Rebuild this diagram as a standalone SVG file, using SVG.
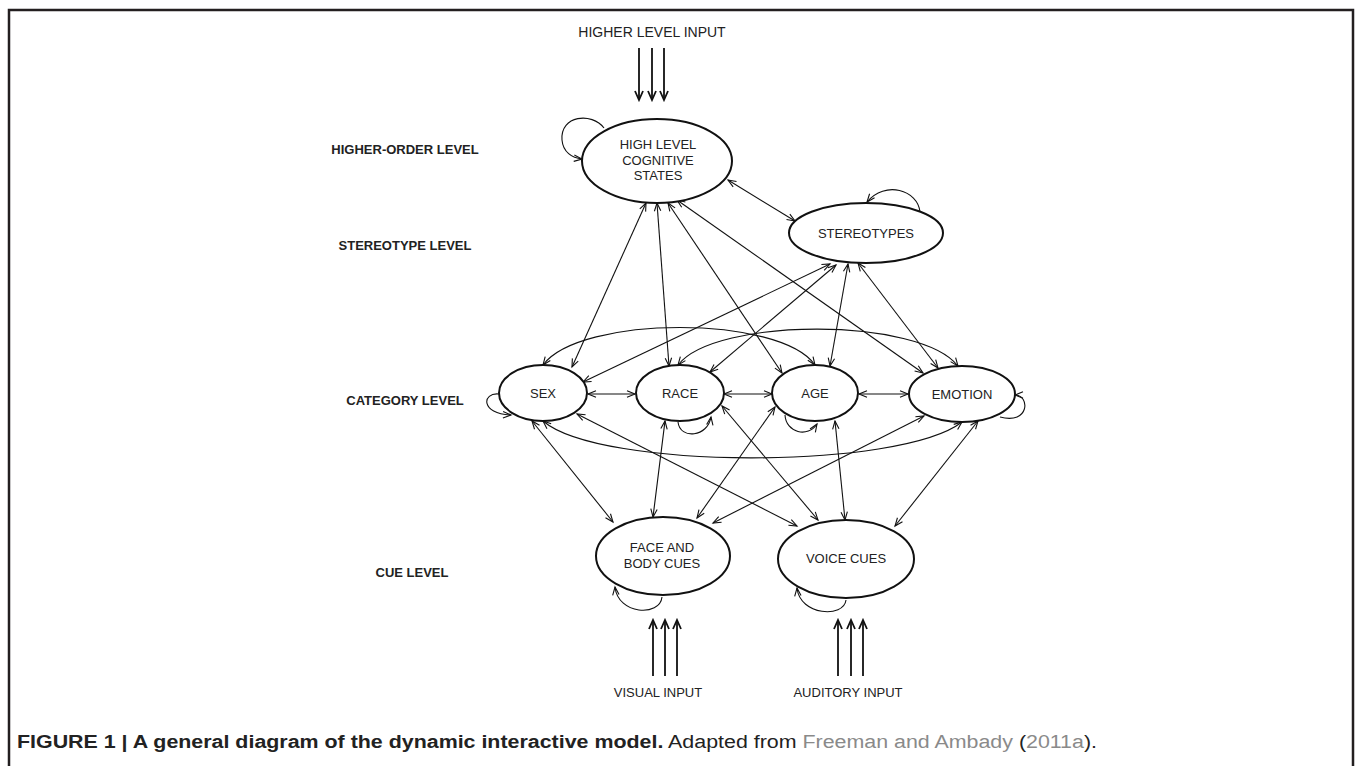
<svg xmlns="http://www.w3.org/2000/svg" width="1355" height="766" viewBox="0 0 1355 766">
<defs>
<marker id="ah" markerUnits="userSpaceOnUse" markerWidth="12" markerHeight="10" refX="9" refY="4" orient="auto-start-reverse" viewBox="0 0 12 8">
<path d="M1,0.8 L9,4 L1,7.2" fill="none" stroke="#111" stroke-width="1.1"/>
</marker>
<marker id="ahb" markerUnits="userSpaceOnUse" markerWidth="12" markerHeight="12" refX="10" refY="5" orient="auto" viewBox="0 0 12 10">
<path d="M1,1 L10,5 L1,9" fill="none" stroke="#111" stroke-width="1.8"/>
</marker>
<style>
.n{fill:#fff;stroke:#111;stroke-width:2}
.t{font-family:"Liberation Sans",Arial,sans-serif;font-size:13px;fill:#222;text-anchor:middle}
.lv{font-family:"Liberation Sans",Arial,sans-serif;font-size:13px;font-weight:bold;fill:#222;text-anchor:middle}
.c{fill:none;stroke:#111;stroke-width:1.1;marker-start:url(#ah);marker-end:url(#ah)}
.l{fill:none;stroke:#111;stroke-width:1.1;marker-end:url(#ah)}
.in{fill:none;stroke:#111;stroke-width:1.8;marker-end:url(#ahb)}
.cap{font-family:"Liberation Sans Narrow","Liberation Sans",Arial,sans-serif;font-size:18px;fill:#222}
</style>
</defs>
<rect width="1355" height="766" fill="#fff"/>
<path d="M9,766 V10 H1353 V766" fill="none" stroke="#231f20" stroke-width="2.5"/>

<g id="levels">
<text class="lv" x="405" y="154">HIGHER-ORDER LEVEL</text>
<text class="lv" x="405" y="250">STEREOTYPE LEVEL</text>
<text class="lv" x="405" y="405">CATEGORY LEVEL</text>
<text class="lv" x="412" y="577">CUE LEVEL</text>
</g>

<g id="connectors">
<path class="c" d="M646,203 L572,367"/>
<path class="c" d="M657,203 L669,366"/>
<path class="c" d="M668,203 L782,373"/>
<path class="c" d="M677,200 L923,373"/>
<path class="c" d="M728,180 L795,221"/>
<path class="c" d="M830,264 L583,382"/>
<path class="c" d="M836,265 L710,372"/>
<path class="c" d="M848,264 L830,366"/>
<path class="c" d="M858,263 L938,368"/>
<path class="c" d="M588,394 L635,394"/>
<path class="c" d="M724,394 L772,394"/>
<path class="c" d="M859,394 L908,394"/>
<path class="c" d="M543,365 C580,315 780,315 815,365"/>
<path class="c" d="M678,365 C715,317 920,317 958,366"/>
<path class="c" d="M543,421 C600,470 900,470 962,422"/>
<path class="c" d="M532,421 L613,522"/>
<path class="c" d="M577,414 L797,526"/>
<path class="c" d="M665,421 L653,517"/>
<path class="c" d="M722,406 L818,520"/>
<path class="c" d="M775,407 L697,518"/>
<path class="c" d="M835,421 L845,520"/>
<path class="c" d="M924,416 L713,523"/>
<path class="c" d="M978,421 L895,526"/>
<path class="l" d="M604,128 C592,112 560,115 562,140 C563,152 572,158 582,159"/>
<path class="l" d="M920,212 C918,190 885,180 867,202"/>
<path class="l" d="M499,394 C482,392 480,414 511,415"/>
<path class="l" d="M678,422 C680,440 708,437 711,417"/>
<path class="l" d="M785,415 C786,433 808,438 817,424"/>
<path class="l" d="M1000,417 C1030,425 1030,395 1015,395"/>
<path class="l" d="M662,597 C660,617 618,615 615,587"/>
<path class="l" d="M846,600 C844,618 800,616 797,588"/>
<path class="in" d="M639,48 V100"/>
<path class="in" d="M652,48 V100"/>
<path class="in" d="M664,48 V100"/>
<path class="in" d="M653,676 V620"/>
<path class="in" d="M665,676 V620"/>
<path class="in" d="M677,676 V620"/>
<path class="in" d="M838,676 V620"/>
<path class="in" d="M851,676 V620"/>
<path class="in" d="M863,676 V620"/>
</g>

<g id="higher-input"><text class="t" x="652" y="37" style="font-size:14px">HIGHER LEVEL INPUT</text></g>
<g id="visual-input"><text class="t" x="658" y="697">VISUAL INPUT</text></g>
<g id="auditory-input"><text class="t" x="848" y="697">AUDITORY INPUT</text></g>

<g id="hlcs">
<ellipse class="n" cx="657" cy="161" rx="75" ry="42"/>
<text class="t" x="658" y="149">HIGH LEVEL</text>
<text class="t" x="658" y="165">COGNITIVE</text>
<text class="t" x="658" y="180">STATES</text>
</g>
<g id="stereotypes">
<ellipse class="n" cx="866" cy="233" rx="77" ry="30"/>
<text class="t" x="866" y="238">STEREOTYPES</text>
</g>
<g id="sex">
<ellipse class="n" cx="543" cy="393" rx="44" ry="28"/>
<text class="t" x="543" y="398">SEX</text>
</g>
<g id="race">
<ellipse class="n" cx="680" cy="393" rx="44" ry="28"/>
<text class="t" x="680" y="398">RACE</text>
</g>
<g id="age">
<ellipse class="n" cx="815" cy="393" rx="43" ry="28"/>
<text class="t" x="815" y="398">AGE</text>
</g>
<g id="emotion">
<ellipse class="n" cx="962" cy="394" rx="53" ry="28"/>
<text class="t" x="962" y="399">EMOTION</text>
</g>
<g id="face">
<ellipse class="n" cx="663" cy="556" rx="67" ry="39"/>
<text class="t" x="662" y="552">FACE AND</text>
<text class="t" x="662" y="568">BODY CUES</text>
</g>
<g id="voice">
<ellipse class="n" cx="846" cy="559" rx="68" ry="39"/>
<text class="t" x="846" y="563">VOICE CUES</text>
</g>

<g id="caption">
<text class="cap" x="17" y="748" textLength="1080" lengthAdjust="spacingAndGlyphs"><tspan font-weight="bold">FIGURE 1 | A general diagram of the dynamic interactive model.</tspan> Adapted from <tspan fill="#8a8a8a">Freeman and Ambady</tspan> (<tspan fill="#8a8a8a">2011a</tspan>).</text>
</g>
</svg>
